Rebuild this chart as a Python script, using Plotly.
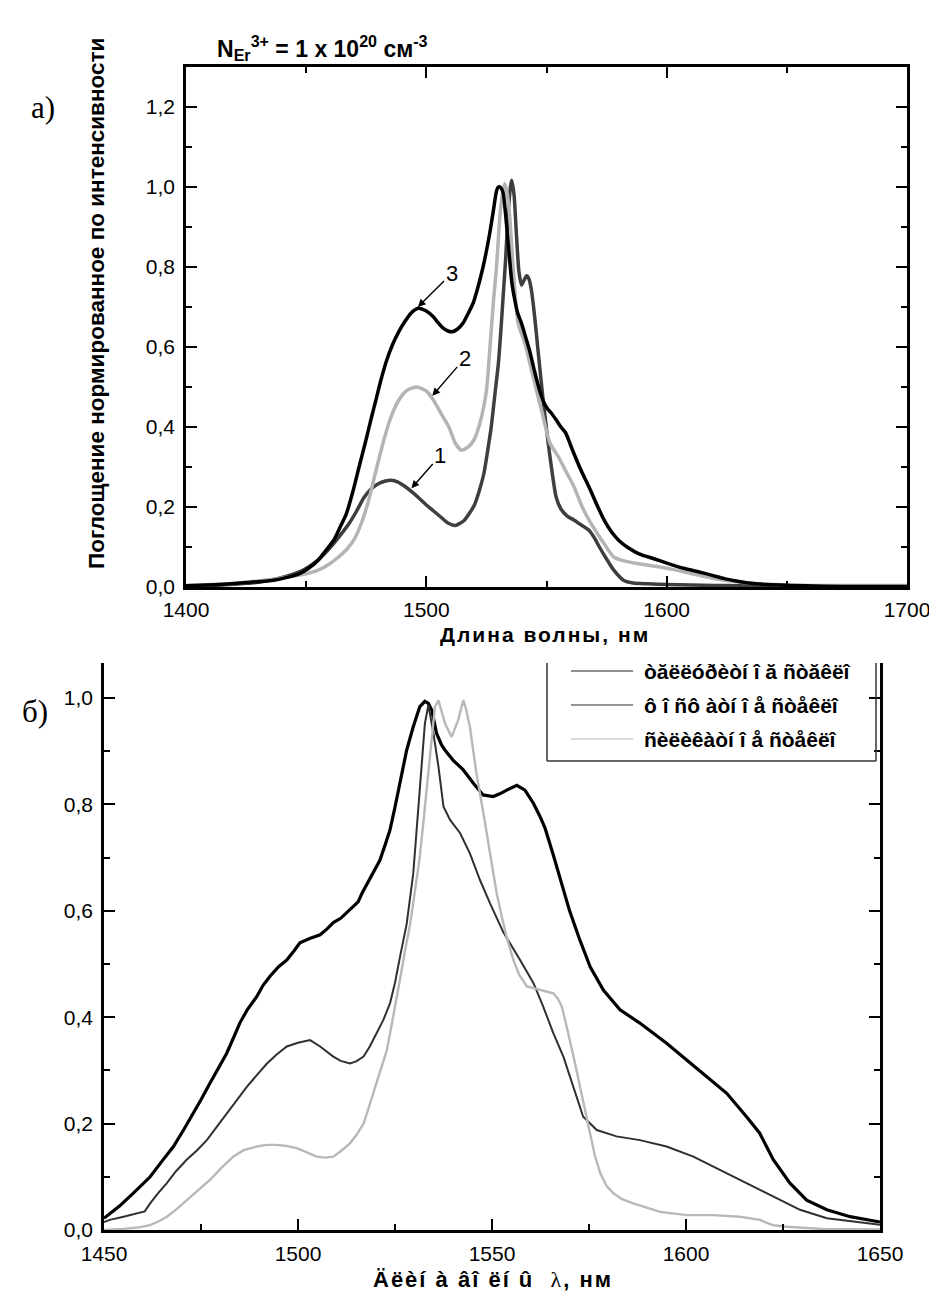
import plotly.graph_objects as go

# ---------------- panel (a): normalised absorption spectra ----------------
wl_a1 = [1400, 1410, 1420, 1430, 1436, 1443, 1449, 1455, 1459, 1464, 1468, 1471, 1474,
         1477, 1480, 1483, 1485.5, 1488, 1491, 1494, 1497, 1500, 1503, 1506, 1509, 1512,
         1515.5, 1518, 1520, 1522, 1524, 1525.5, 1527, 1528.5, 1530, 1531, 1532, 1533,
         1534, 1535, 1535.5, 1536.5, 1537.5, 1538.5, 1539.6, 1540.5, 1541.7, 1542.7,
         1543.7, 1545, 1546.5, 1548.6, 1550.7, 1552.5, 1554, 1556, 1558.5, 1561.5, 1564.5,
         1567.7, 1570, 1572, 1575, 1578, 1582, 1586, 1592, 1600, 1610, 1620, 1630, 1645,
         1660, 1680, 1700]
abs_a1 = [0.002, 0.004, 0.007, 0.012, 0.018, 0.029, 0.043, 0.068, 0.092, 0.128, 0.16, 0.19,
          0.223, 0.245, 0.258, 0.265, 0.267, 0.263, 0.252, 0.238, 0.222, 0.205, 0.19, 0.175,
          0.16, 0.154, 0.165, 0.185, 0.205, 0.24, 0.285, 0.34, 0.40, 0.48, 0.56, 0.64, 0.73,
          0.82, 0.93, 1.0, 1.017, 0.98, 0.88, 0.79, 0.755, 0.765, 0.778, 0.77, 0.743, 0.68,
          0.59, 0.467, 0.36, 0.28, 0.225, 0.195, 0.178, 0.167, 0.155, 0.142, 0.122, 0.1,
          0.07, 0.042, 0.017, 0.01, 0.008, 0.006, 0.005, 0.004, 0.003, 0.002, 0.002, 0.002,
          0.002]

wl_a2 = [1400, 1410, 1420, 1426, 1435, 1442.7, 1450, 1455, 1459, 1463.5, 1467, 1469.8,
         1473, 1476, 1479, 1482.3, 1485, 1488.5, 1492, 1496, 1500, 1503, 1506, 1509.4, 1512,
         1514.6, 1517, 1519.8, 1523, 1525, 1526.4, 1528, 1529.2, 1530.6, 1531.6, 1532.6,
         1533.6, 1534.7, 1536.1, 1538.2, 1541, 1544.4, 1547.9, 1551.4, 1555, 1558, 1561.5,
         1564.5, 1567.7, 1571, 1574, 1578, 1583, 1588.5, 1595, 1601, 1607, 1613.5, 1619,
         1624, 1634, 1645, 1660, 1680, 1700]
abs_a2 = [0.004, 0.006, 0.009, 0.0125, 0.018, 0.025, 0.033, 0.042, 0.055, 0.075, 0.095,
          0.117, 0.16, 0.217, 0.29, 0.367, 0.42, 0.467, 0.492, 0.50, 0.49, 0.467, 0.435,
          0.40, 0.36, 0.342, 0.348, 0.367, 0.426, 0.49, 0.5925, 0.72, 0.80, 0.926, 0.98,
          1.009, 0.985, 0.926, 0.80, 0.659, 0.609, 0.526, 0.4425, 0.36, 0.325, 0.29, 0.25,
          0.205, 0.167, 0.135, 0.108, 0.075, 0.064, 0.058, 0.052, 0.046, 0.038, 0.029,
          0.022, 0.017, 0.01, 0.006, 0.004, 0.004, 0.004]

wl_a3 = [1400, 1415.6, 1425, 1436.5, 1442, 1447, 1451, 1455, 1458, 1461.5, 1464, 1466.7,
         1469.5, 1472, 1475, 1477, 1479, 1481, 1483.4, 1486, 1488.5, 1491, 1493.5, 1496.6,
         1500, 1502.8, 1505, 1507, 1509, 1510.8, 1513, 1515.3, 1517.5, 1519.5, 1521.5,
         1523.6, 1525, 1526.4, 1528, 1529.2, 1530, 1531, 1532, 1533, 1534.5, 1535.6, 1536.8,
         1538, 1539.6, 1541.3, 1543, 1545, 1547.2, 1549, 1550.5, 1552, 1554, 1556, 1558,
         1560, 1562, 1564.5, 1567.7, 1571, 1574, 1577, 1580, 1584, 1588.5, 1595, 1601, 1607,
         1613.5, 1619, 1624, 1629, 1634, 1642, 1651, 1665, 1680, 1700]
abs_a3 = [0.003, 0.007, 0.011, 0.017, 0.024, 0.033, 0.047, 0.067, 0.09, 0.117, 0.148,
          0.183, 0.24, 0.30, 0.37, 0.42, 0.467, 0.515, 0.565, 0.607, 0.638, 0.663, 0.684,
          0.697, 0.69, 0.676, 0.66, 0.647, 0.64, 0.638, 0.645, 0.66, 0.685, 0.71, 0.75,
          0.80, 0.84, 0.885, 0.945, 0.99, 1.0, 0.998, 0.984, 0.93, 0.83, 0.76, 0.7175,
          0.685, 0.659, 0.625, 0.59, 0.54, 0.49, 0.46, 0.445, 0.435, 0.418, 0.40, 0.385,
          0.355, 0.325, 0.29, 0.25, 0.205, 0.167, 0.138, 0.117, 0.098, 0.083, 0.07, 0.058,
          0.047, 0.0375, 0.029, 0.021, 0.015, 0.01, 0.006, 0.004, 0.002, 0.001, 0.001]

# curve number, label position and arrow tip (wavelength, absorption)
curve_labels = ["1", "2", "3"]
label_pos = [(1505.8, 0.329), (1516.0, 0.572), (1510.5, 0.784)]
arrow_tip = [(1493.8, 0.247), (1502.5, 0.478), (1496.5, 0.700)]

xa_ticks = [1400, 1500, 1600, 1700]
xa_ticktext = ["1400", "1500", "1600", "1700"]
xa_minor = [1450, 1550, 1650]
ya_ticks = [0.0, 0.2, 0.4, 0.6, 0.8, 1.0, 1.2]
ya_ticktext = ["0,0", "0,2", "0,4", "0,6", "0,8", "1,0", "1,2"]
ya_minor = [0.1, 0.3, 0.5, 0.7, 0.9, 1.1]

# ---------------- panel (b): luminescence spectra of three glasses ----------------
wl_b_tel = [1450, 1454, 1457.5, 1461.9, 1465, 1467.9, 1470.5, 1473, 1475, 1477.3, 1479.5,
            1481.6, 1483.3, 1485, 1487, 1489.4, 1491, 1492.8, 1495, 1497.1, 1499, 1500.5,
            1503, 1505.7, 1507.5, 1509.1, 1511, 1512.6, 1514, 1515.5, 1516.5, 1518.5,
            1521.1, 1522.5, 1523.7, 1525, 1526.3, 1528, 1529.7, 1531.4, 1532.7, 1533.6,
            1534.5, 1535.7, 1537, 1537.9, 1540, 1542.6, 1545.2, 1547.7, 1550.3, 1552,
            1553.8, 1556.4, 1558.5, 1560.7, 1562.4, 1563.7, 1565.8, 1568.4, 1570, 1572.5,
            1575.3, 1578.7, 1583, 1588.1, 1595, 1600.1, 1605.3, 1610.5, 1615.6, 1619,
            1622.5, 1626.8, 1631.1, 1636.3, 1642.3, 1649.2, 1650]
lum_b_tel = [0.022, 0.045, 0.069, 0.10, 0.13, 0.157, 0.188, 0.219, 0.245, 0.276, 0.305,
             0.332, 0.36, 0.389, 0.415, 0.439, 0.46, 0.477, 0.495, 0.5075, 0.525, 0.54,
             0.548, 0.555, 0.566, 0.578, 0.586, 0.597, 0.607, 0.617, 0.633, 0.66, 0.695,
             0.725, 0.752, 0.795, 0.84, 0.902, 0.946, 0.984, 0.994, 0.99, 0.977, 0.934,
             0.912, 0.902, 0.883, 0.865, 0.84, 0.818, 0.815, 0.82, 0.827, 0.836, 0.827,
             0.802, 0.777, 0.755, 0.705, 0.64, 0.60, 0.548, 0.495, 0.451, 0.414, 0.389,
             0.351, 0.32, 0.288, 0.257, 0.213, 0.182, 0.132, 0.088, 0.056, 0.038, 0.025,
             0.016, 0.015]

wl_b_phos = [1450, 1451.5, 1455, 1458, 1460.5, 1461.9, 1464, 1466.2, 1468.5, 1471.3, 1474,
             1476.5, 1479, 1481.6, 1484, 1486.8, 1489.5, 1492, 1494.5, 1497.1, 1500,
             1503.1, 1505.7, 1509.1, 1511, 1513.4, 1515, 1516.9, 1518.5, 1520.3, 1522,
             1523.7, 1525, 1526.3, 1528, 1529.7, 1531.4, 1532.7, 1533.6, 1534.9, 1536.2,
             1537.5, 1539.2, 1541.8, 1544.3, 1546.9, 1549.5, 1552.9, 1557.2, 1560.7,
             1563.2, 1565.8, 1568.4, 1571, 1573.5, 1577, 1582.1, 1588.1, 1595, 1601.9,
             1608.8, 1615.6, 1622.5, 1629.4, 1636.3, 1646.6, 1650]
lum_b_phos = [0.015, 0.019, 0.025, 0.03, 0.035, 0.05, 0.07, 0.088, 0.11, 0.132, 0.15,
              0.169, 0.193, 0.219, 0.243, 0.269, 0.292, 0.313, 0.33, 0.345, 0.352, 0.357,
              0.345, 0.326, 0.318, 0.313, 0.317, 0.326, 0.345, 0.37, 0.395, 0.426, 0.465,
              0.514, 0.575, 0.67, 0.827, 0.952, 0.987, 0.934, 0.871, 0.796, 0.771, 0.746,
              0.708, 0.658, 0.614, 0.56, 0.508, 0.464, 0.42, 0.37, 0.326, 0.269, 0.213,
              0.188, 0.176, 0.169, 0.157, 0.138, 0.113, 0.088, 0.063, 0.038, 0.022, 0.0125,
              0.01]

wl_b_sil = [1450, 1455, 1459, 1461.9, 1464, 1466.2, 1468.5, 1471.3, 1474, 1477.3, 1480,
            1483.3, 1486, 1489.4, 1492, 1494.5, 1497, 1499.7, 1502, 1504.8, 1507, 1509.1,
            1511, 1513.4, 1515, 1516.9, 1518, 1519.4, 1521, 1522.9, 1524, 1525.4, 1526.5,
            1527.6, 1528.9, 1530, 1531.4, 1532.5, 1533.6, 1534.5, 1535.3, 1536.2, 1537,
            1537.9, 1539.6, 1541.3, 1542.6, 1543.3, 1544.3, 1546, 1547.8, 1549.5, 1551.2,
            1552.5, 1553.8, 1555.5, 1557, 1559, 1562.4, 1565.8, 1567, 1568, 1569, 1570.1,
            1571.5, 1572.7, 1574, 1575.3, 1576.5, 1577.9, 1579.5, 1581.3, 1583.5, 1586.4,
            1590, 1593.3, 1600.2, 1607, 1613.9, 1619.1, 1621, 1622.5, 1626, 1629.4, 1635,
            1650]
lum_b_sil = [0.0, 0.002, 0.005, 0.009, 0.016, 0.025, 0.038, 0.056, 0.073, 0.094, 0.115,
             0.138, 0.15, 0.157, 0.16, 0.16, 0.158, 0.154, 0.147, 0.138, 0.136, 0.138,
             0.148, 0.163, 0.178, 0.20, 0.225, 0.257, 0.295, 0.338, 0.38, 0.432, 0.48,
             0.526, 0.575, 0.63, 0.702, 0.78, 0.858, 0.93, 0.984, 0.996, 0.975, 0.952,
             0.927, 0.959, 0.996, 0.98, 0.946, 0.858, 0.783, 0.708, 0.633, 0.59, 0.55,
             0.508, 0.48, 0.458, 0.451, 0.445, 0.435, 0.42, 0.39, 0.357, 0.31, 0.269,
             0.225, 0.182, 0.14, 0.107, 0.083, 0.069, 0.058, 0.05, 0.041, 0.034, 0.028,
             0.028, 0.025, 0.019, 0.013, 0.009, 0.006, 0.004, 0.002, 0.001]

legend_names = ["òăëëóðèòí î ă ñòăêëî", "ô î ñô àòí î å ñòåêëî", "ñèëèêàòí î å ñòåêëî"]

xb_ticks = [1450, 1500, 1550, 1600, 1650]
xb_ticktext = ["1450", "1500", "1550", "1600", "1650"]
xb_minor = [1475, 1525, 1575, 1625]
yb_ticks = [0.0, 0.2, 0.4, 0.6, 0.8, 1.0]
yb_ticktext = ["0,0", "0,2", "0,4", "0,6", "0,8", "1,0"]
yb_minor = [0.1, 0.3, 0.5, 0.7, 0.9]

# ---------------- figure geometry helpers ----------------
W, H = 929, 1307


def fx(px):
    return px / W


def fy(py):
    return 1 - py / H


FONT = "Liberation Sans, Arial, sans-serif"
SERIF = "Liberation Serif, Times New Roman, serif"

fig = go.Figure()

# panel (a) curves
fig.add_trace(go.Scatter(x=wl_a1, y=abs_a1, mode="lines", xaxis="x", yaxis="y",
                         line=dict(color="#3e3e3e", width=3.5, shape="spline", smoothing=0.6),
                         name="1"))
fig.add_trace(go.Scatter(x=wl_a2, y=abs_a2, mode="lines", xaxis="x", yaxis="y",
                         line=dict(color="#b4b4b4", width=3.5, shape="spline", smoothing=0.6),
                         name="2"))
fig.add_trace(go.Scatter(x=wl_a3, y=abs_a3, mode="lines", xaxis="x", yaxis="y",
                         line=dict(color="#000000", width=3.5, shape="spline", smoothing=0.6),
                         name="3"))

# panel (b) curves
b_colors = ["#000000", "#303030", "#b8b8b8"]
b_widths = [3.2, 2.0, 2.4]
for wl, lum, name, c, w in zip([wl_b_tel, wl_b_phos, wl_b_sil],
                               [lum_b_tel, lum_b_phos, lum_b_sil],
                               legend_names, b_colors, b_widths):
    fig.add_trace(go.Scatter(x=wl, y=lum, mode="lines", xaxis="x2", yaxis="y2",
                             line=dict(color=c, width=w), name=name))

axis_common = dict(
    showline=True, linecolor="black", linewidth=2.5,
    ticks="inside", ticklen=11, tickwidth=2, tickcolor="black",
    showgrid=False, zeroline=False, automargin=False,
    ticklabeloverflow="allow",
    tickfont=dict(family=FONT, size=21, color="black"),
    tickmode="array",
)

fig.update_layout(
    template="none",
    width=W, height=H,
    margin=dict(l=0, r=0, t=0, b=0, pad=0),
    paper_bgcolor="white", plot_bgcolor="white",
    showlegend=False,
    font=dict(family=FONT, color="black"),
    xaxis=dict(domain=[fx(186), fx(907)], range=[1400, 1700], anchor="y",
               tickvals=xa_ticks, ticktext=xa_ticktext, mirror="ticks",
               ticklabelstandoff=2,
               minor=dict(tickvals=xa_minor, ticks="inside", ticklen=6, tickwidth=2,
                          tickcolor="black", showgrid=False),
               **axis_common),
    yaxis=dict(domain=[fy(587), fy(67)], range=[0, 1.3], anchor="x",
               tickvals=ya_ticks, ticktext=ya_ticktext, mirror="ticks",
               ticklabelstandoff=4,
               minor=dict(tickvals=ya_minor, ticks="inside", ticklen=6, tickwidth=2,
                          tickcolor="black", showgrid=False),
               **axis_common),
    xaxis2=dict(domain=[fx(104), fx(880)], range=[1450, 1650], anchor="y2",
                tickvals=xb_ticks, ticktext=xb_ticktext, mirror=False,
                ticklabelstandoff=3,
                minor=dict(tickvals=xb_minor, ticks="inside", ticklen=6, tickwidth=2,
                           tickcolor="black", showgrid=False),
                **axis_common),
    yaxis2=dict(domain=[fy(1230), fy(663)], range=[0, 1.066], anchor="x2",
                tickvals=yb_ticks, ticktext=yb_ticktext, mirror="ticks",
                ticklabelstandoff=4,
                minor=dict(tickvals=yb_minor, ticks="inside", ticklen=6, tickwidth=2,
                           tickcolor="black", showgrid=False),
                **axis_common),
)

annotations = []

# curve number labels with arrows in panel (a)
for lab, (lx, ly), (tx, ty) in zip(curve_labels, label_pos, arrow_tip):
    annotations.append(dict(
        x=tx, y=ty, xref="x", yref="y", ax=lx, ay=ly, axref="x", ayref="y",
        text=lab, showarrow=True, arrowhead=2, arrowsize=1.1, arrowwidth=1.4,
        arrowcolor="black", font=dict(family=FONT, size=22, color="black")))

# panel letters
annotations.append(dict(x=fx(29), y=fy(88), xref="paper", yref="paper", text="а)",
                        showarrow=False, font=dict(family=SERIF, size=31, color="black")))
annotations.append(dict(x=fx(20), y=fy(711), xref="paper", yref="paper", text="б)",
                        showarrow=False, font=dict(family=SERIF, size=31, color="black")))

# panel (a) heading with the erbium concentration
annotations.append(dict(
    x=fx(322), y=fy(30), xref="paper", yref="paper", showarrow=False,
    text="N<sub>Er</sub><sup>3+</sup> = 1 x 10<sup>20</sup> см<sup>-3</sup>",
    font=dict(family=FONT, size=23, color="black", weight="bold")))

# axis titles
annotations.append(dict(
    x=fx(97), y=fy(304), xref="paper", yref="paper", showarrow=False, textangle=-90,
    xanchor="center", yanchor="middle",
    text="Поглощение нормированное по интенсивности",
    font=dict(family=FONT, size=22.5, color="black", weight="bold")))
annotations.append(dict(
    x=fx(545), y=fy(634), xref="paper", yref="paper", showarrow=False,
    text='<span style="letter-spacing:2px">Длина волны, нм</span>',
    font=dict(family=FONT, size=21, color="black", weight="bold")))
annotations.append(dict(
    x=fx(493), y=fy(1294), xref="paper", yref="paper", showarrow=False,
    text='<span style="letter-spacing:2px">Äëèí à âî ëí û\u00a0\u00a0'
         '<span style="font-family:\'Liberation Serif\';font-weight:normal">λ</span>, нм</span>',
    font=dict(family=FONT, size=22, color="black", weight="bold")))

# legend of panel (b): sample lines and names
legend_rows = [671, 705, 739]
shapes = []
for name, c, row in zip(legend_names, b_colors, legend_rows):
    shapes.append(dict(type="line", xref="paper", yref="paper",
                       x0=fx(571), x1=fx(633), y0=fy(row), y1=fy(row),
                       line=dict(color=c if c != "#000000" else "#222222", width=1.2)))
    annotations.append(dict(x=fx(642), y=fy(row), xref="paper", yref="paper",
                            xanchor="left", showarrow=False, text=name,
                            font=dict(family=FONT, size=21, color="black", weight="bold")))
# legend frame (open at the top edge)
frame = dict(color="#333333", width=1.5)
shapes.append(dict(type="line", xref="paper", yref="paper", x0=fx(547), x1=fx(547),
                   y0=fy(663), y1=fy(761), line=frame))
shapes.append(dict(type="line", xref="paper", yref="paper", x0=fx(547), x1=fx(876),
                   y0=fy(761), y1=fy(761), line=frame))
shapes.append(dict(type="line", xref="paper", yref="paper", x0=fx(876), x1=fx(876),
                   y0=fy(663), y1=fy(761), line=frame))

fig.update_layout(annotations=annotations, shapes=shapes)

fig.write_html("out.html")
